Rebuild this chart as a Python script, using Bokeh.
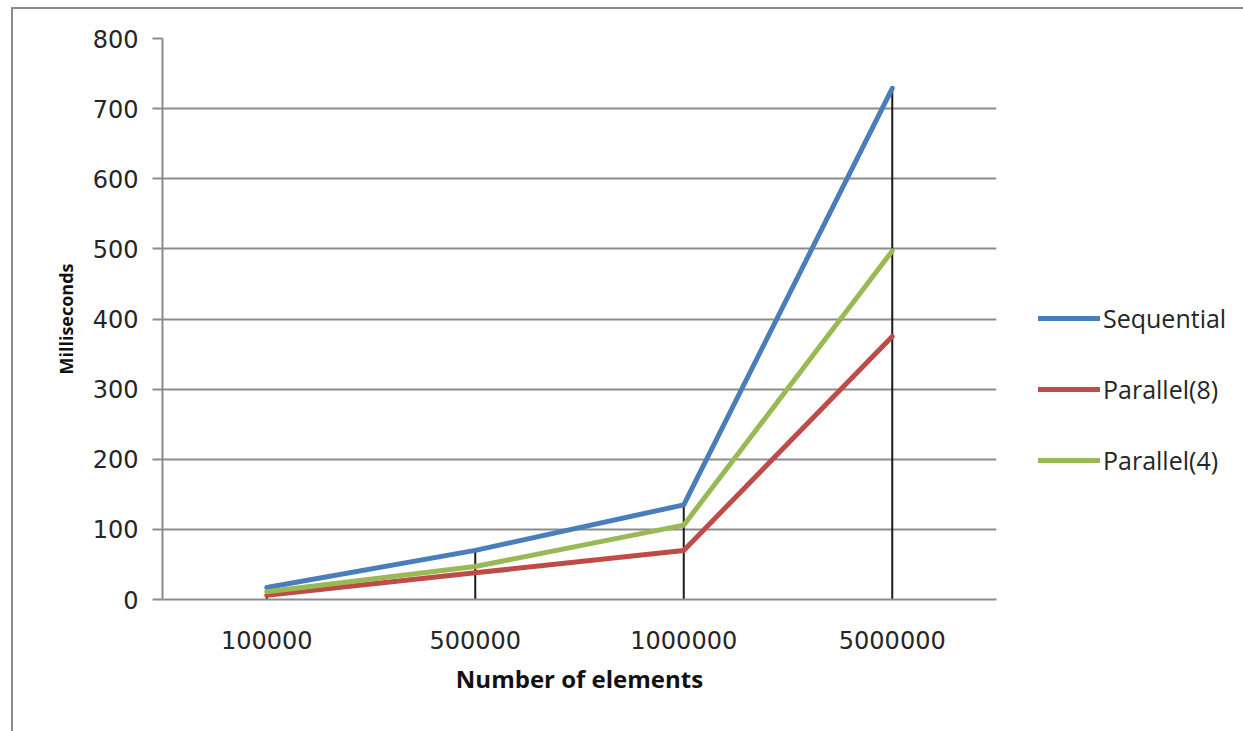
from bokeh.plotting import figure
from bokeh.models import Legend, LegendItem, FactorRange, Range1d, FixedTicker
from bokeh.embed import file_html
from bokeh.resources import INLINE

# Run time (ms) for each input size
elements = ["100000", "500000", "1000000", "5000000"]
sequential = [17, 70, 135, 729]
parallel8 = [6, 38, 70, 375]
parallel4 = [11, 47, 106, 497]
y_ticks = [0, 100, 200, 300, 400, 500, 600, 700, 800]

series_names = ["Sequential", "Parallel(8)", "Parallel(4)"]
series_colors = ["#4A7EBB", "#BE4B48", "#98B954"]

GRID = "#8c8c8c"
TEXT = "#262626"

# canvas sits inside a thin grey chart border (left/top)
OFF_X, OFF_Y = 13, 9

p = figure(
    x_range=FactorRange(*elements, range_padding=0),
    y_range=Range1d(0, 800),
    frame_width=834, frame_height=561,
    output_backend="svg", toolbar_location=None,
    min_border_left=162 - OFF_X, min_border_right=0,
    min_border_top=38 - OFF_Y, min_border_bottom=132,
)
p.styles = {
    "position": "absolute",
    "left": f"{OFF_X - 2}px",
    "top": f"{OFF_Y - 2}px",
    "border-left": "2px solid #8a8a8a",
    "border-top": "2px solid #8a8a8a",
    "box-sizing": "content-box",
}
p.outline_line_color = None
p.background_fill_color = "white"
p.border_fill_color = "white"

# gridlines
p.xgrid.grid_line_color = None
p.ygrid.ticker = FixedTicker(ticks=y_ticks)
p.ygrid.grid_line_color = GRID
p.ygrid.grid_line_width = 2

# drop lines from the highest series down to the axis
tops = [max(a, b, c) for a, b, c in zip(sequential, parallel8, parallel4)]
p.segment(x0=elements, y0=[0] * len(elements), x1=elements, y1=tops,
          line_color="#1a1a1a", line_width=2)

renderers = []
for vals, color in zip([sequential, parallel8, parallel4], series_colors):
    r = p.line(x=elements, y=vals, line_color=color, line_width=5,
               line_join="round", line_cap="round")
    renderers.append(r)

# y axis
p.yaxis.ticker = FixedTicker(ticks=y_ticks)
p.yaxis.axis_line_color = GRID
p.yaxis.axis_line_width = 2
p.yaxis.major_tick_out = 10
p.yaxis.major_tick_in = 0
p.yaxis.major_tick_line_color = GRID
p.yaxis.major_tick_line_width = 2
p.yaxis.minor_tick_line_color = None
p.yaxis.major_label_text_font = "DejaVu Sans"
p.yaxis.major_label_text_font_size = "24px"
p.yaxis.major_label_text_color = TEXT
p.yaxis.major_label_standoff = 14
p.yaxis.axis_label = "Milliseconds"
p.yaxis.axis_label_text_font = "Open Sans"
p.yaxis.axis_label_text_font_style = "bold"
p.yaxis.axis_label_text_font_size = "18px"
p.yaxis.axis_label_text_color = "#111111"
p.yaxis.axis_label_standoff = 12

# x axis
p.xaxis.axis_line_color = GRID
p.xaxis.axis_line_width = 2
p.xaxis.major_tick_line_color = None
p.xaxis.minor_tick_line_color = None
p.xaxis.major_label_text_font = "DejaVu Sans"
p.xaxis.major_label_text_font_size = "24px"
p.xaxis.major_label_text_color = TEXT
p.xaxis.major_label_standoff = 25
p.xaxis.axis_label = "Number of elements"
p.xaxis.axis_label_text_font = "Open Sans"
p.xaxis.axis_label_text_font_style = "bold"
p.xaxis.axis_label_text_font_size = "24px"
p.xaxis.axis_label_text_color = "#111111"
p.xaxis.axis_label_standoff = 10

legend = Legend(
    items=[LegendItem(label=n, renderers=[r]) for n, r in zip(series_names, renderers)],
    location=(42, 122),
    glyph_width=62, glyph_height=22, label_height=22,
    label_standoff=3, spacing=37, padding=0, margin=0,
    border_line_color=None, background_fill_alpha=0,
    label_text_font="Open Sans", label_text_font_size="25px",
    label_text_color=TEXT,
)
p.add_layout(legend, "right")

open("out.html", "w").write(file_html(p, INLINE))
